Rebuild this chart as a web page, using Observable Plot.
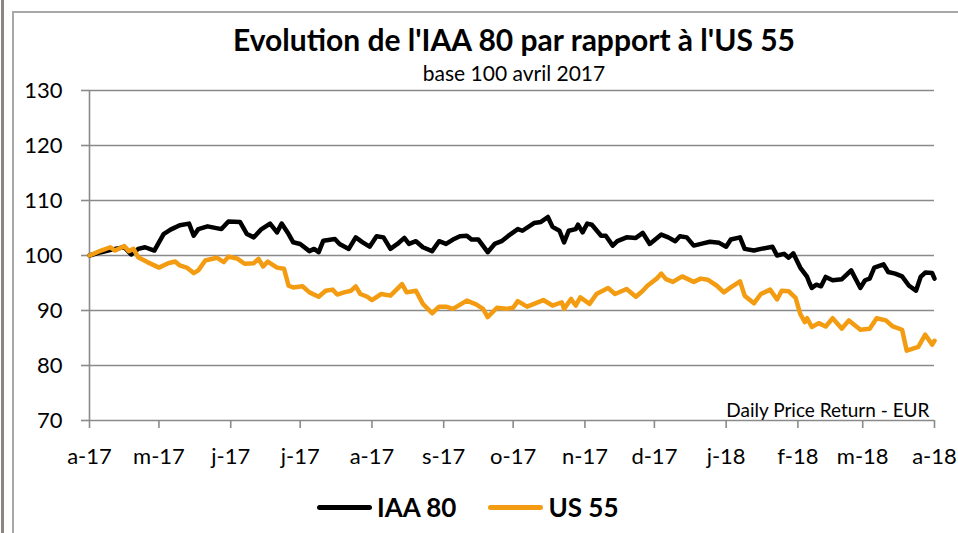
<!DOCTYPE html>
<html>
<head>
<meta charset="utf-8">
<script src="https://cdn.jsdelivr.net/npm/d3@7"></script>
<script src="https://cdn.jsdelivr.net/npm/@observablehq/plot@0.6"></script>
<style>
  html, body { margin: 0; padding: 0; background: #fff; }
  #wrap { position: relative; width: 958px; height: 533px; overflow: hidden; background: #fff; font-family: Lato, "Open Sans", sans-serif; color: #000; }
  #outer { position: absolute; left: 1px; top: 0; width: 3px; height: 533px; background: #8a8782; }
  #frame { position: absolute; left: 12px; top: 11px; width: 980px; height: 560px; border-left: 2px solid #a8a8a8; border-top: 2px solid #a8a8a8; }
  #title { position: absolute; left: 70px; width: 888px; top: 21px; text-align: center; font-weight: 700; font-size: 30px; line-height: 36px; }
  #subtitle { position: absolute; left: 70px; width: 888px; top: 61px; text-align: center; font-size: 21px; line-height: 24px; }
  #chart { position: absolute; left: 0; top: 60px; }
  #legend { position: absolute; left: 317px; top: 491px; display: flex; font-weight: 700; font-size: 26px; line-height: 32px; }
  .item { display: flex; align-items: center; margin-right: 32px; }
  .sw { width: 55px; height: 5px; border-radius: 3px; margin-right: 5px; }
</style>
</head>
<body>
<div id="wrap">
  <div id="outer"></div>
  <div id="frame"></div>
  <div id="title">Evolution de l'IAA 80 par rapport à l'US 55</div>
  <div id="subtitle">base 100 avril 2017</div>
  <div id="chart"></div>
  <div id="legend"></div>
</div>
<script>
const seriesNames = ["IAA 80", "US 55"];
const seriesColors = ["#000000", "#f39c12"];
const caption = "Daily Price Return - EUR";

const xTickDates = ["2017-04-01","2017-05-01","2017-06-01","2017-07-01","2017-08-01","2017-09-01","2017-10-01","2017-11-01","2017-12-01","2018-01-01","2018-02-01","2018-03-01","2018-04-01"];
const xTickLabels = ["a-17","m-17","j-17","j-17","a-17","s-17","o-17","n-17","d-17","j-18","f-18","m-18","a-18"];
const yTicks = [70, 80, 90, 100, 110, 120, 130];

const iaaDates = [
  "2017-04-01","2017-04-06","2017-04-12","2017-04-16","2017-04-19","2017-04-22","2017-04-25","2017-04-29",
  "2017-05-01","2017-05-03","2017-05-06","2017-05-10","2017-05-14","2017-05-16","2017-05-18","2017-05-22","2017-05-28","2017-05-31",
  "2017-06-05","2017-06-08","2017-06-11","2017-06-14","2017-06-18","2017-06-21","2017-06-23","2017-06-26","2017-06-28",
  "2017-07-01","2017-07-05","2017-07-07","2017-07-09","2017-07-11","2017-07-16","2017-07-18","2017-07-22","2017-07-25","2017-07-28","2017-07-31",
  "2017-08-03","2017-08-06","2017-08-09","2017-08-12","2017-08-15","2017-08-17","2017-08-20","2017-08-23","2017-08-27","2017-08-30",
  "2017-09-02","2017-09-05","2017-09-08","2017-09-11","2017-09-13","2017-09-16","2017-09-20","2017-09-23","2017-09-26","2017-09-29",
  "2017-10-03","2017-10-05","2017-10-10","2017-10-13","2017-10-16","2017-10-18","2017-10-21","2017-10-23","2017-10-25","2017-10-28","2017-10-29","2017-10-31",
  "2017-11-02","2017-11-04","2017-11-08","2017-11-10","2017-11-13","2017-11-15","2017-11-19","2017-11-23","2017-11-26","2017-11-29",
  "2017-12-04","2017-12-07","2017-12-10","2017-12-12","2017-12-15","2017-12-18","2017-12-22","2017-12-25","2017-12-29",
  "2018-01-01","2018-01-03","2018-01-07","2018-01-09","2018-01-13","2018-01-16","2018-01-21","2018-01-23","2018-01-26","2018-01-28","2018-01-30",
  "2018-02-02","2018-02-05","2018-02-06","2018-02-07","2018-02-09","2018-02-11","2018-02-13","2018-02-16","2018-02-20","2018-02-24","2018-02-28",
  "2018-03-02","2018-03-04","2018-03-06","2018-03-10","2018-03-12","2018-03-15","2018-03-18","2018-03-21","2018-03-24","2018-03-26","2018-03-28","2018-03-31","2018-04-01"
];
const iaaValues = [
  100, 100.6, 101.2, 101.5, 100.2, 101.2, 101.5, 100.9,
  102.4, 103.9, 104.7, 105.5, 105.8, 103.6, 104.8, 105.3, 104.8, 106.2,
  106.1, 103.9, 103.3, 104.7, 105.8, 104.2, 105.8, 103.9, 102.4,
  102.1, 100.8, 101.2, 100.6, 102.7, 103.0, 102.1, 101.2, 103.3, 102.4, 101.6,
  103.5, 103.3, 101.2, 102.1, 103.2, 102.1, 102.6, 101.5, 100.8, 102.6,
  102.1, 102.9, 103.5, 103.6, 102.9, 102.9, 100.6, 102.1, 102.6, 103.6,
  104.8, 104.5, 105.9, 106.1, 107.0, 105.2, 104.5, 102.4, 104.5, 104.8, 105.6, 104.2,
  105.8, 105.6, 103.6, 103.6, 101.8, 102.6, 103.3, 103.2, 104.1, 102.1,
  103.8, 103.3, 102.6, 103.5, 103.3, 101.8, 102.2, 102.5, 102.3,
  101.6, 102.9, 103.3, 101.2, 100.9, 101.2, 101.6, 100.0, 100.3, 99.6, 100.4,
  97.8, 96.1, 95.0, 94.1, 94.7, 94.4, 96.1, 95.5, 95.7, 97.3, 94.1,
  95.5, 95.8, 97.8, 98.4, 97.0, 96.7, 96.2, 94.5, 93.6, 96.1, 96.9, 96.8, 95.8
];

const usDates = [
  "2017-04-01","2017-04-06","2017-04-10","2017-04-12","2017-04-16","2017-04-18","2017-04-20","2017-04-22","2017-04-26",
  "2017-05-01","2017-05-05","2017-05-08","2017-05-10","2017-05-13","2017-05-16","2017-05-18","2017-05-21","2017-05-26","2017-05-29","2017-05-31",
  "2017-06-04","2017-06-07","2017-06-11","2017-06-13","2017-06-15","2017-06-17","2017-06-21","2017-06-24","2017-06-26","2017-06-28",
  "2017-07-02","2017-07-05","2017-07-09","2017-07-12","2017-07-15","2017-07-17","2017-07-20","2017-07-23","2017-07-25","2017-07-27","2017-07-30",
  "2017-08-01","2017-08-05","2017-08-09","2017-08-14","2017-08-16","2017-08-20","2017-08-23","2017-08-27","2017-08-30",
  "2017-09-02","2017-09-05","2017-09-11","2017-09-15","2017-09-18","2017-09-20","2017-09-24","2017-09-28",
  "2017-10-01","2017-10-03","2017-10-07","2017-10-10","2017-10-14","2017-10-18","2017-10-22","2017-10-23","2017-10-26","2017-10-28","2017-10-30",
  "2017-11-03","2017-11-06","2017-11-11","2017-11-14","2017-11-19","2017-11-23","2017-11-26","2017-11-28",
  "2017-12-02","2017-12-04","2017-12-06","2017-12-09","2017-12-13","2017-12-18","2017-12-21","2017-12-24","2017-12-28","2017-12-31",
  "2018-01-03","2018-01-07","2018-01-09","2018-01-13","2018-01-16","2018-01-20","2018-01-23","2018-01-25","2018-01-28","2018-01-31",
  "2018-02-02","2018-02-04","2018-02-05","2018-02-07","2018-02-10","2018-02-13","2018-02-16","2018-02-20","2018-02-23","2018-02-28",
  "2018-03-04","2018-03-07","2018-03-11","2018-03-14","2018-03-18","2018-03-20","2018-03-25","2018-03-28","2018-03-31","2018-04-01"
];
const usValues = [
  100, 100.9, 101.5, 100.9, 101.7, 100.8, 101.2, 99.7, 98.8,
  97.8, 98.6, 98.9, 98.2, 97.8, 96.8, 97.3, 99.1, 99.6, 98.8, 99.8,
  99.4, 98.5, 98.6, 99.4, 98.0, 98.9, 97.8, 97.6, 94.5, 94.2,
  94.4, 93.3, 92.5, 93.6, 93.8, 92.9, 93.3, 93.6, 94.4, 93.0, 92.5,
  91.9, 93.0, 92.7, 94.8, 93.3, 93.6, 91.2, 89.5, 90.7,
  90.7, 90.3, 91.8, 91.1, 90.3, 88.8, 90.5, 90.3,
  90.5, 91.7, 90.7, 91.2, 91.9, 90.9, 91.5, 90.3, 92.1, 90.9, 92.4,
  91.2, 93.0, 94.1, 93.0, 93.9, 92.5, 93.6, 94.5,
  95.8, 96.7, 95.7, 95.2, 96.2, 95.2, 95.8, 95.6, 94.5, 93.3,
  94.2, 95.3, 92.7, 91.3, 93.0, 93.8, 92.0, 93.6, 93.5, 92.3,
  89.4, 87.9, 88.6, 87.0, 87.7, 87.1, 88.6, 86.7, 88.2, 86.5,
  86.7, 88.6, 88.2, 87.1, 86.5, 82.7, 83.4, 85.6, 83.8, 84.5
];

const parse = d3.utcParse("%Y-%m-%d");
const iaa = iaaDates.map((d, i) => ({date: parse(d), value: iaaValues[i]}));
const us = usDates.map((d, i) => ({date: parse(d), value: usValues[i]}));
const xTicks = xTickDates.map(parse);
const gridColor = "#8a8a8a";

const chart = Plot.plot({
  width: 958,
  height: 415,
  marginLeft: 89,
  marginRight: 24,
  marginTop: 30,
  marginBottom: 55,
  style: {fontFamily: "Lato, 'Open Sans', sans-serif", background: "transparent", color: "#000", overflow: "visible"},
  x: {type: "utc", domain: [xTicks[0], xTicks[xTicks.length - 1]]},
  y: {domain: [70, 130]},
  marks: [
    Plot.gridY(yTicks, {stroke: gridColor, strokeOpacity: 1, strokeWidth: 1.6}),
    Plot.ruleX([xTicks[0]], {stroke: gridColor, strokeWidth: 1.6}),
    Plot.axisY({ticks: yTicks, tickSize: 8, tickPadding: 19, fontSize: 22, stroke: gridColor, strokeWidth: 1.6, fill: "#000", label: null}),
    Plot.axisX({ticks: xTicks, tickSize: 8, tickPadding: 20, fontSize: 22, stroke: gridColor, strokeWidth: 1.6, fill: "#000", label: null,
      tickFormat: (d) => xTickLabels[xTicks.findIndex(t => +t === +d)]}),
    Plot.text([caption], {frameAnchor: "bottom-right", dx: -5, dy: -4, fontSize: 19, fill: "#000", textAnchor: "end", lineAnchor: "bottom"}),
    Plot.line(iaa, {x: "date", y: "value", stroke: seriesColors[0], strokeWidth: 4.5}),
    Plot.line(us, {x: "date", y: "value", stroke: seriesColors[1], strokeWidth: 4.5})
  ]
});
document.getElementById("chart").appendChild(chart);

const legend = document.getElementById("legend");
seriesNames.forEach((name, i) => {
  const item = document.createElement("div");
  item.className = "item";
  const sw = document.createElement("div");
  sw.className = "sw";
  sw.style.background = seriesColors[i];
  const label = document.createElement("span");
  label.textContent = name;
  item.appendChild(sw);
  item.appendChild(label);
  legend.appendChild(item);
});
</script>
</body>
</html>
